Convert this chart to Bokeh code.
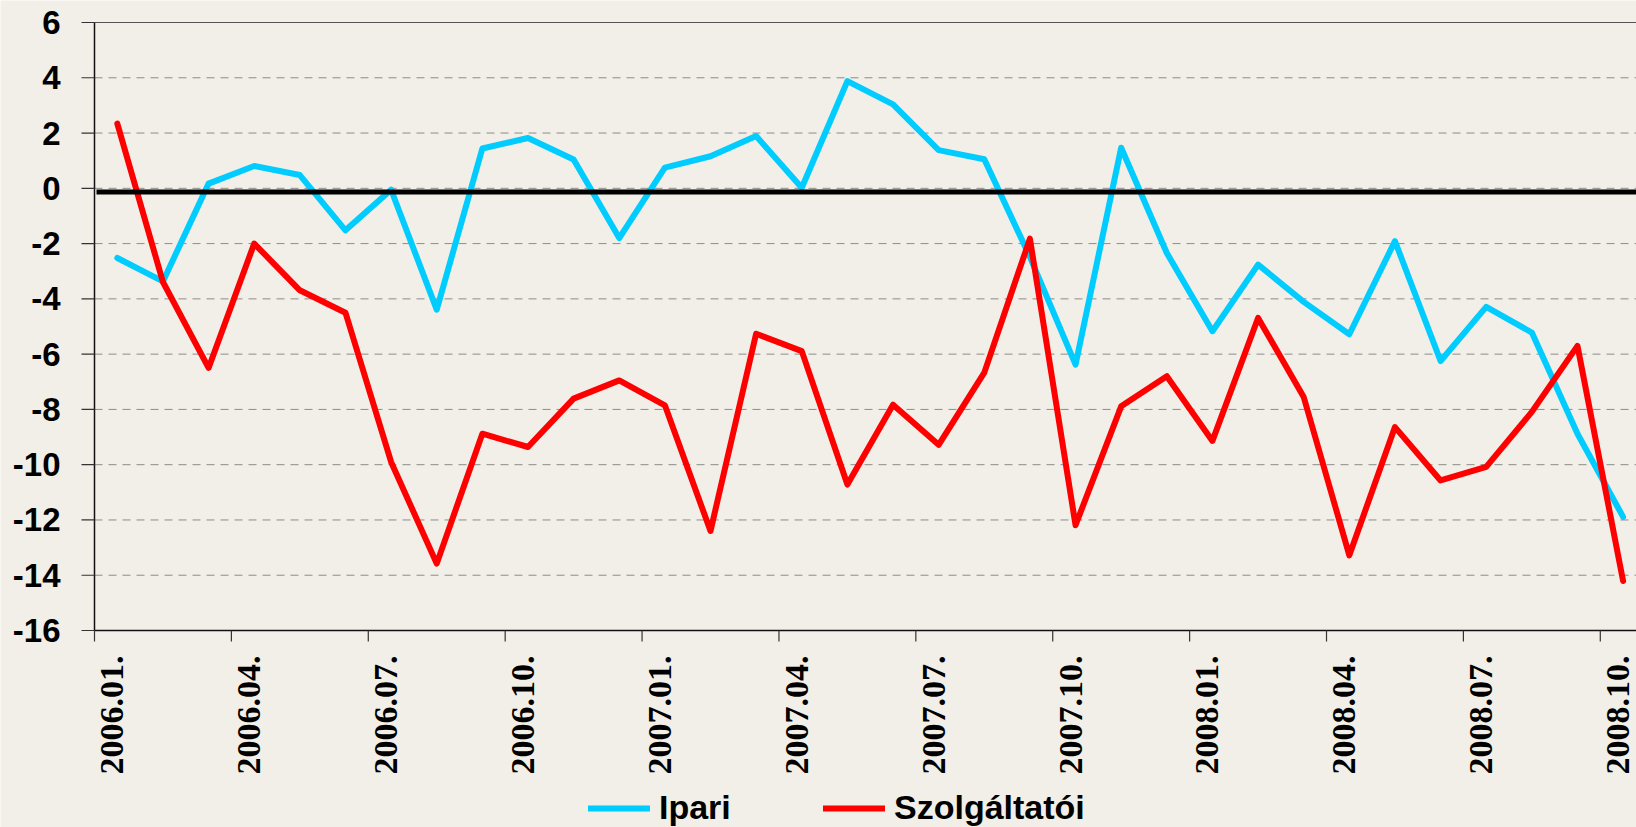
import math
from bokeh.plotting import figure
from bokeh.models import Range1d, Legend, LegendItem
from bokeh.core.properties import value
from bokeh.embed import file_html
from bokeh.resources import INLINE

# ---- data -------------------------------------------------------------
months = [
    "2006.01.", "2006.02.", "2006.03.", "2006.04.", "2006.05.", "2006.06.",
    "2006.07.", "2006.08.", "2006.09.", "2006.10.", "2006.11.", "2006.12.",
    "2007.01.", "2007.02.", "2007.03.", "2007.04.", "2007.05.", "2007.06.",
    "2007.07.", "2007.08.", "2007.09.", "2007.10.", "2007.11.", "2007.12.",
    "2008.01.", "2008.02.", "2008.03.", "2008.04.", "2008.05.", "2008.06.",
    "2008.07.", "2008.08.", "2008.09.", "2008.10.",
]
ipari = [
    -2.52, -3.37, 0.17, 0.81, 0.48, -1.52, -0.05, -4.39, 1.44, 1.82,
    1.04, -1.80, 0.75, 1.16, 1.89, 0.02, 3.88, 3.04, 1.38, 1.05,
    -2.48, -6.38, 1.47, -2.34, -5.17, -2.76, -4.11, -5.28, -1.91, -6.25,
    -4.29, -5.22, -8.88, -11.89,
]
szolgaltatoi = [
    2.34, -3.39, -6.50, -2.00, -3.69, -4.50, -9.90, -13.58, -8.88, -9.36,
    -7.61, -6.95, -7.85, -12.40, -5.26, -5.89, -10.72, -7.83, -9.28, -6.67,
    -1.82, -12.19, -7.89, -6.80, -9.14, -4.69, -7.55, -13.28, -8.64, -10.57,
    -10.08, -8.09, -5.70, -14.21,
]
series_names = ["Ipari", "Szolgáltatói"]
x_tick_labels = ["2006.01.", "2006.04.", "2006.07.", "2006.10.",
                 "2007.01.", "2007.04.", "2007.07.", "2007.10.",
                 "2008.01.", "2008.04.", "2008.07.", "2008.10."]
y_ticks = [-16, -14, -12, -10, -8, -6, -4, -2, 0, 2, 4, 6]
y_tick_labels = ["-16", "-14", "-12", "-10", "-8", "-6", "-4", "-2", "0", "2", "4", "6"]
zero_line_level = -0.13

# ---- layout / styling constants ---------------------------------------
W, H = 1636, 827
PLOT_LEFT, PLOT_TOP, PLOT_BOTTOM = 94, 22, 630      # pixel edges of the plot area
Y_MIN, Y_MAX = -16, 6
PX_MONTH = 45.63                                    # px per month
PX_Y = (PLOT_BOTTOM - PLOT_TOP) / (Y_MAX - Y_MIN)   # px per unit
BG = "#F1EFE7"
BLUE = "#00CCFF"
RED = "#FF0000"
FONT = "Liberation Sans"
NARROW = "Liberation Sans Narrow"
LABEL_SHIFT = 0.39   # label anchor inside a category (0 = left boundary)

def dx(px):
    return px / PX_MONTH

def dy(px):
    return px / PX_Y

x_lo = -dx(PLOT_LEFT)
x_hi = dx(W - PLOT_LEFT)
y_hi = Y_MAX + dy(PLOT_TOP)
y_lo = Y_MIN - dy(H - PLOT_BOTTOM)
x_end = len(months)

x = [i + 0.5 for i in range(len(months))]
label_pos = [months.index(lbl) + LABEL_SHIFT for lbl in x_tick_labels]
boundaries = [months.index(lbl) for lbl in x_tick_labels]

p = figure(width=W, height=H, output_backend="svg", toolbar_location=None,
           x_range=Range1d(x_lo, x_hi), y_range=Range1d(y_lo, y_hi),
           x_axis_type=None, y_axis_type=None,
           min_border_left=0, min_border_right=0, min_border_top=0, min_border_bottom=0,
           background_fill_color=BG, border_fill_color=BG)
p.outline_line_color = None
p.grid.visible = False

n = len(y_ticks)
# dashed horizontal gridlines
p.segment(x0=[0] * n, y0=y_ticks, x1=[x_end] * n, y1=y_ticks,
          line_color="#8c8c8c", line_width=1, line_dash="8 6")
# top border of plot area
p.segment(x0=[0], y0=[Y_MAX], x1=[x_end], y1=[Y_MAX], line_color="#555555", line_width=1)

# data series
r_ip = p.line(x, ipari, line_color=BLUE, line_width=6, line_join="round", line_cap="round")
r_sz = p.line(x, szolgaltatoi, line_color=RED, line_width=6, line_join="round", line_cap="round")

# thick reference line near zero
p.segment(x0=[dx(2)], y0=[zero_line_level], x1=[x_end], y1=[zero_line_level],
          line_color="#000000", line_width=5)

# axes lines
p.segment(x0=[0], y0=[Y_MIN], x1=[0], y1=[Y_MAX], line_color="#111111", line_width=1.5)
p.segment(x0=[0], y0=[Y_MIN], x1=[x_end], y1=[Y_MIN], line_color="#111111", line_width=1.5)

# y ticks and labels
p.segment(x0=[-dx(13)] * n, y0=y_ticks, x1=[0] * n, y1=y_ticks,
          line_color="#333333", line_width=1.2)
p.text(x=[-dx(34)] * n, y=y_ticks, text=y_tick_labels,
       text_font=value(FONT), text_font_style="bold", text_font_size=value("33px"),
       text_color="#000000", text_align="right", text_baseline="middle")

# x ticks (category boundaries) and labels (rotated)
m = len(boundaries)
p.segment(x0=boundaries, y0=[Y_MIN] * m, x1=boundaries, y1=[Y_MIN - dy(11)] * m,
          line_color="#333333", line_width=1.2)
p.text(x=label_pos, y=[Y_MIN - dy(25)] * m, text=x_tick_labels, angle=math.pi / 2,
       text_font=value(NARROW), text_font_style="bold", text_font_size=value("34px"),
       text_color="#000000", text_align="right", text_baseline="middle")

# legend below the category labels
legend = Legend(items=[LegendItem(label=value(series_names[0]), renderers=[r_ip]),
                       LegendItem(label=value(series_names[1]), renderers=[r_sz])],
                location=(588, 0), orientation="horizontal",
                glyph_width=62, glyph_height=36, label_height=36, label_width=150,
                label_standoff=9, spacing=14, padding=0, margin=0,
                border_line_color=None, background_fill_alpha=0,
                label_text_font=FONT, label_text_font_style="bold",
                label_text_font_size="34px", label_text_color="#000000")
p.add_layout(legend)

open("out.html", "w").write(file_html(p, INLINE))
